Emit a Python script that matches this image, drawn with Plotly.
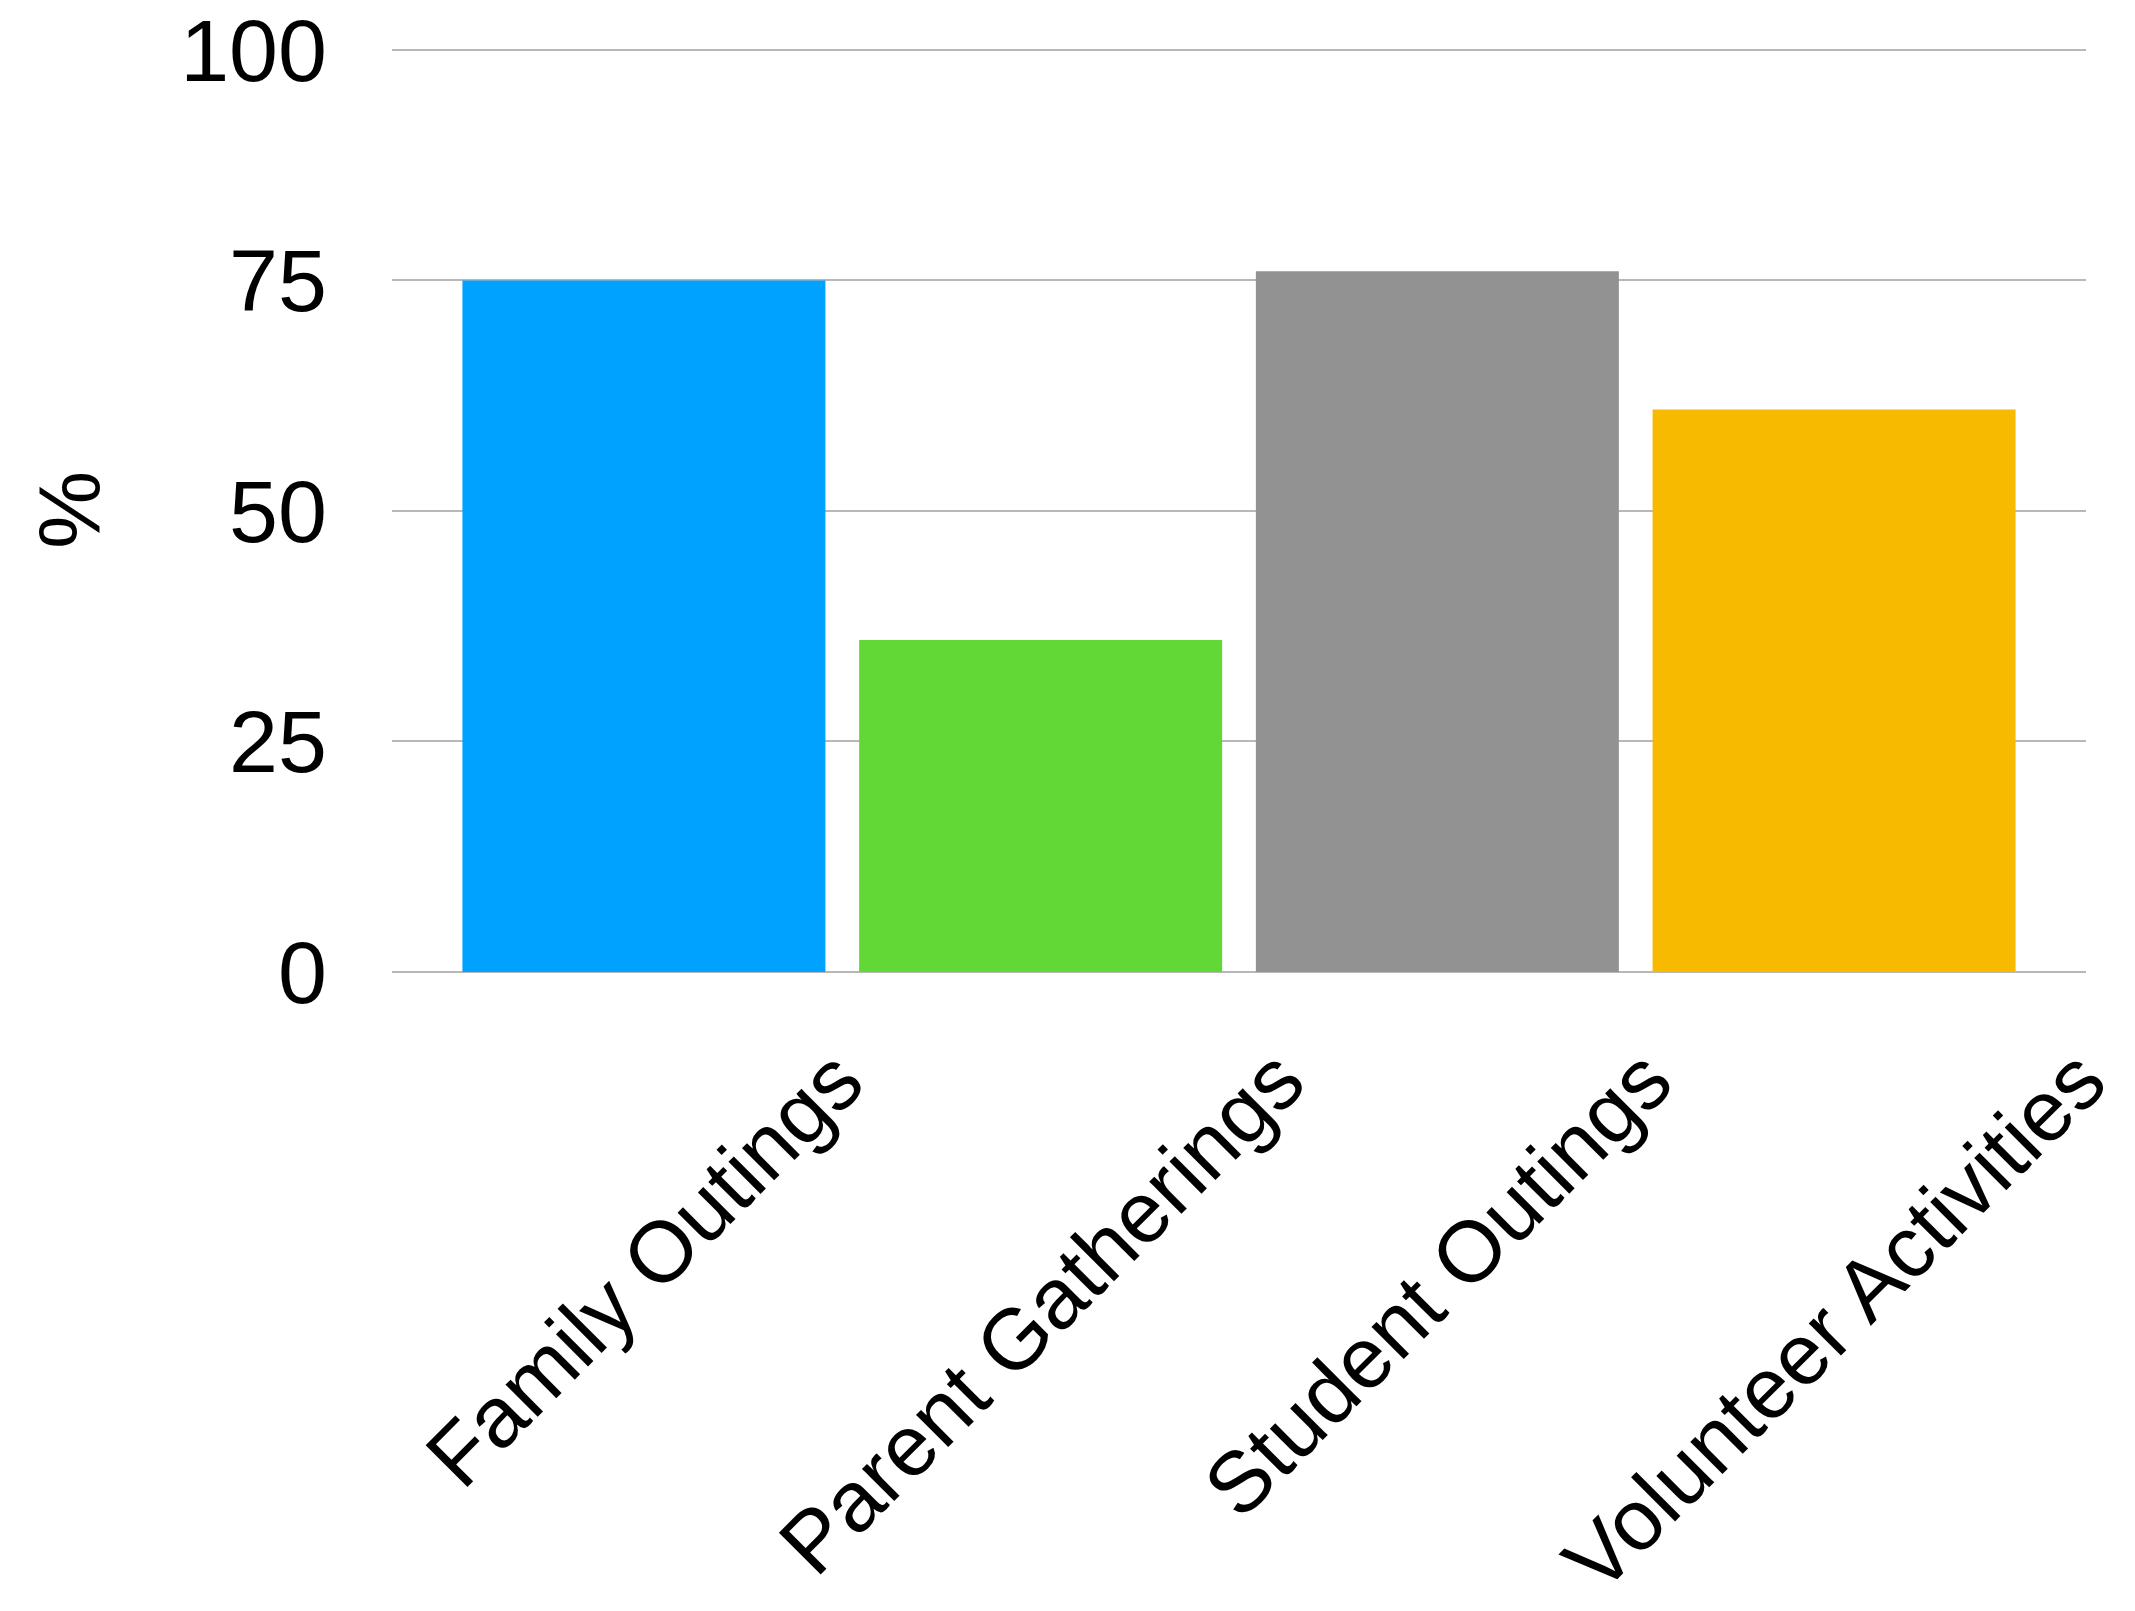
import plotly.graph_objects as go

# Participation by activity type (%)
categories = ["Family Outings", "Parent Gatherings", "Student Outings", "Volunteer Activities"]
values = [75, 36, 76, 61]
bar_colors = ["#00A2FF", "#61D836", "#929292", "#F7BA00"]
y_ticks = [0, 25, 50, 75, 100]

FONT = "Liberation Sans, Arial, Helvetica, sans-serif"
FS = 88

fig = go.Figure(
    go.Bar(
        x=list(range(len(categories))),
        y=values,
        marker=dict(color=bar_colors, line=dict(width=0)),
        width=0.915,
        hoverinfo="skip",
    )
)

# Category labels rotated about their own centre, hanging below the baseline
annotations = []
for i, name in enumerate(categories):
    annotations.append(
        dict(
            x=i, y=0, xref="x", yref="y",
            text=name, showarrow=False, textangle=-45,
            xanchor="center", yanchor="top", yshift=-56,
            font=dict(family=FONT, size=86, color="#000000"),
        )
    )

# Y-axis title
annotations.append(
    dict(
        x=0, y=0.5, xref="paper", yref="paper",
        text="%", showarrow=False, textangle=-90,
        xanchor="center", yanchor="middle", xshift=-324,
        font=dict(family=FONT, size=FS, color="#000000"),
    )
)

fig.update_layout(
    width=2135, height=1611,
    margin=dict(l=392, r=49, t=48, b=639, pad=0, autoexpand=False),
    paper_bgcolor="#FFFFFF", plot_bgcolor="#FFFFFF",
    showlegend=False,
    annotations=annotations,
    font=dict(family=FONT, size=FS, color="#000000"),
    xaxis=dict(
        range=[-0.635, 3.635],
        showticklabels=False, showgrid=False, zeroline=False,
        showline=False, ticks="", fixedrange=True, automargin=False,
    ),
    yaxis=dict(
        range=[0, 100.2],
        tickvals=y_ticks, ticktext=[str(v) for v in y_ticks],
        showgrid=True, gridcolor="#B8B8B8", gridwidth=2,
        zeroline=True, zerolinecolor="#B8B8B8", zerolinewidth=2,
        showline=False, ticks="", ticklabelstandoff=64,
        tickfont=dict(family=FONT, size=FS, color="#000000"),
        fixedrange=True, automargin=False,
    ),
)

fig.write_html("out.html")
